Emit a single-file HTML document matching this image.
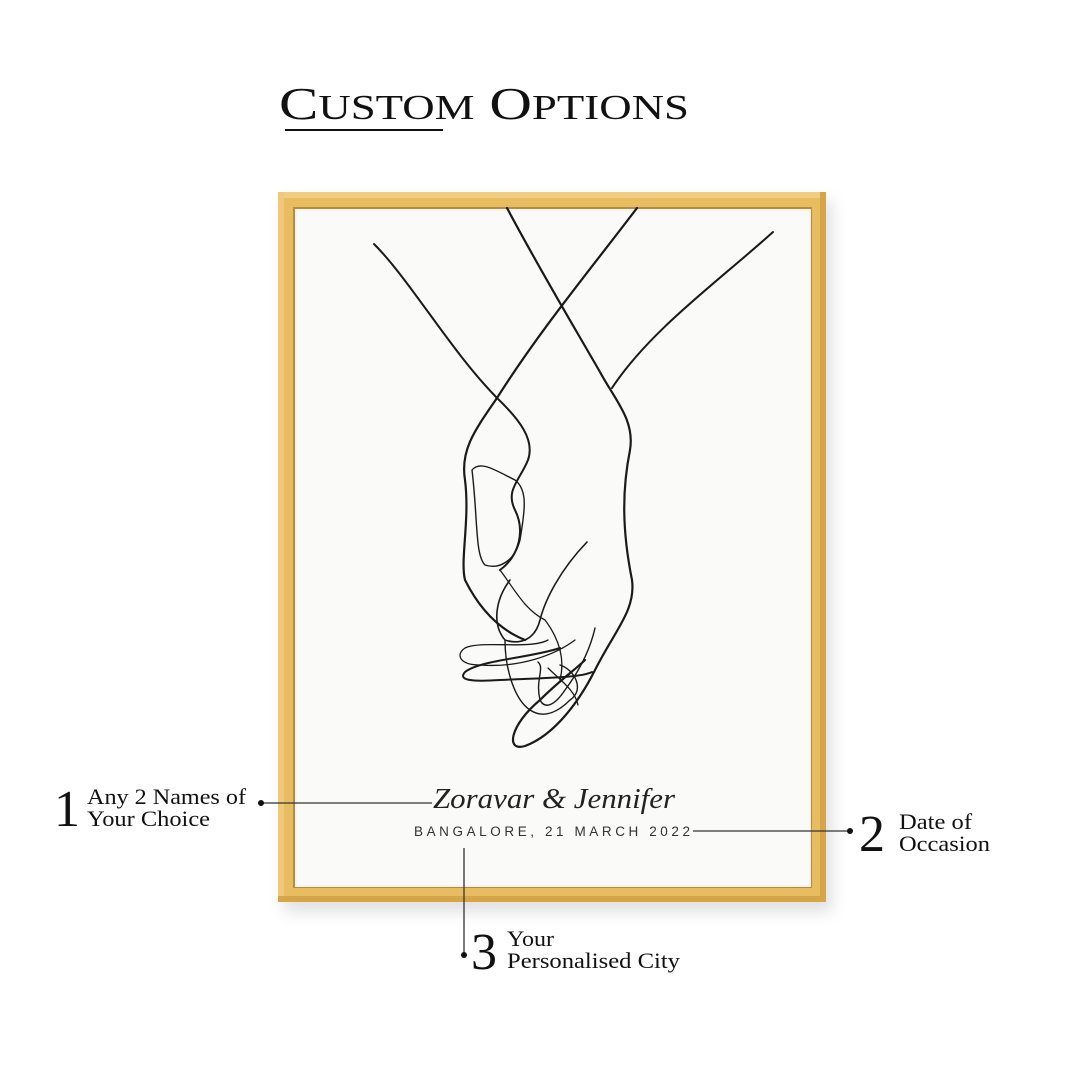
<!DOCTYPE html>
<html><head><meta charset="utf-8"><style>
html,body{margin:0;padding:0;background:#fff;}
body{width:1080px;height:1080px;position:relative;overflow:hidden;font-family:"Liberation Serif",serif;}
svg{position:absolute;left:0;top:0;}
</style></head><body>
<svg width="1080" height="1080" viewBox="0 0 1080 1080">
<defs>
<filter id="sh" x="-10%" y="-10%" width="120%" height="120%"><feGaussianBlur stdDeviation="8"/></filter>
</defs>
<rect x="284" y="200" width="548" height="712" fill="#000" opacity="0.12" filter="url(#sh)"/>
<rect x="278" y="192" width="548" height="710" fill="#e8bd62"/>
<rect x="278" y="192" width="548" height="6" fill="#f0cd80"/>
<rect x="278" y="192" width="6" height="710" fill="#eec97c"/>
<rect x="820" y="192" width="6" height="710" fill="#d6a548"/>
<rect x="278" y="896" width="548" height="6" fill="#d6a548"/>
<rect x="293" y="207" width="519" height="681" fill="#b98a3a"/>
<rect x="295" y="209" width="516" height="678" fill="#f4f4f3"/>
<rect x="297" y="211" width="512" height="674" fill="#fafaf9"/>

<text x="279" y="119" font-size="46" fill="#111" font-family="Liberation Serif,serif" textLength="410" lengthAdjust="spacingAndGlyphs">C<tspan font-size="35">USTOM</tspan> O<tspan font-size="35">PTIONS</tspan></text>
<rect x="285" y="129" width="158" height="2" fill="#111"/>

<g fill="none" stroke="#1a1a1a" stroke-linecap="round" stroke-linejoin="round">
<path d="M374 244 C410 280 450 350 497 398 C520 420 535 440 528 460 C520 480 505 490 515 510 C525 530 520 555 500 570" stroke-width="2"/>
<path d="M637 208 C590 270 540 330 497 398 C475 430 460 450 465 480 C470 520 460 560 465 580 C480 610 500 630 525 640" stroke-width="2.2"/>
<path d="M507 208 C540 270 570 320 600 372 C615 400 635 420 630 450 C622 490 622 530 632 580 C636 610 615 630 595 670 C580 700 555 735 525 746 C505 752 510 725 540 700 C560 680 575 670 585 660" stroke-width="2.2"/>
<path d="M773 232 C720 280 650 330 612 388" stroke-width="2"/>
<path d="M472 470 C480 460 495 470 515 480 C528 490 525 510 520 540 C515 560 500 570 485 565 C475 555 478 520 472 470Z" stroke-width="1.4"/>
<path d="M587 542 C560 570 545 600 540 620 C535 640 520 645 505 640 C492 625 495 600 510 580" stroke-width="1.6"/>
<path d="M500 570 C515 590 525 610 545 620 C560 640 565 660 560 680" stroke-width="1.3"/>
<path d="M548 640 C530 650 480 640 465 648 C455 655 460 665 480 665 C520 668 555 655 575 640" stroke-width="1.3"/>
<path d="M560 648 C530 658 480 660 465 672 C458 680 470 682 500 680 C540 678 580 678 592 672" stroke-width="2"/>
<path d="M505 640 C505 670 515 700 530 710 C545 720 560 710 570 700 C585 690 575 670 560 665" stroke-width="1.4"/>
<path d="M595 628 C590 650 580 670 565 690 C555 705 545 710 540 700 C535 680 545 668 538 662" stroke-width="1.4"/>
<path d="M548 668 C560 680 575 690 578 705" stroke-width="1.3"/>
</g>

<text x="433" y="808" font-family="Liberation Serif,serif" font-style="italic" font-size="29" fill="#222" textLength="242" lengthAdjust="spacingAndGlyphs">Zoravar &amp; Jennifer</text>
<text x="414" y="836" font-family="Liberation Sans,sans-serif" font-size="13.5" fill="#333" textLength="276" lengthAdjust="spacing">BANGALORE, 21 MARCH 2022</text>

<g stroke="#333" stroke-width="1.3">
<line x1="261" y1="803" x2="432" y2="803"/>
<line x1="693" y1="831" x2="850" y2="831"/>
<line x1="464" y1="848" x2="464" y2="955"/>
</g>
<g fill="#111">
<circle cx="261" cy="803" r="3"/><circle cx="850" cy="831" r="3"/><circle cx="464" cy="955" r="3"/>
</g>

<g fill="#111" font-family="Liberation Serif,serif">
<text x="54" y="826" font-size="52">1</text>
<text x="87" y="804" font-size="22" textLength="159" lengthAdjust="spacingAndGlyphs">Any 2 Names of</text>
<text x="87" y="826" font-size="22" textLength="123" lengthAdjust="spacingAndGlyphs">Your Choice</text>
<text x="859" y="851" font-size="52">2</text>
<text x="899" y="829" font-size="22" textLength="73" lengthAdjust="spacingAndGlyphs">Date of</text>
<text x="899" y="851" font-size="22" textLength="91" lengthAdjust="spacingAndGlyphs">Occasion</text>
<text x="471" y="969" font-size="52">3</text>
<text x="507" y="946" font-size="22" textLength="47" lengthAdjust="spacingAndGlyphs">Your</text>
<text x="507" y="968" font-size="22" textLength="173" lengthAdjust="spacingAndGlyphs">Personalised City</text>
</g>
</svg>
</body></html>
